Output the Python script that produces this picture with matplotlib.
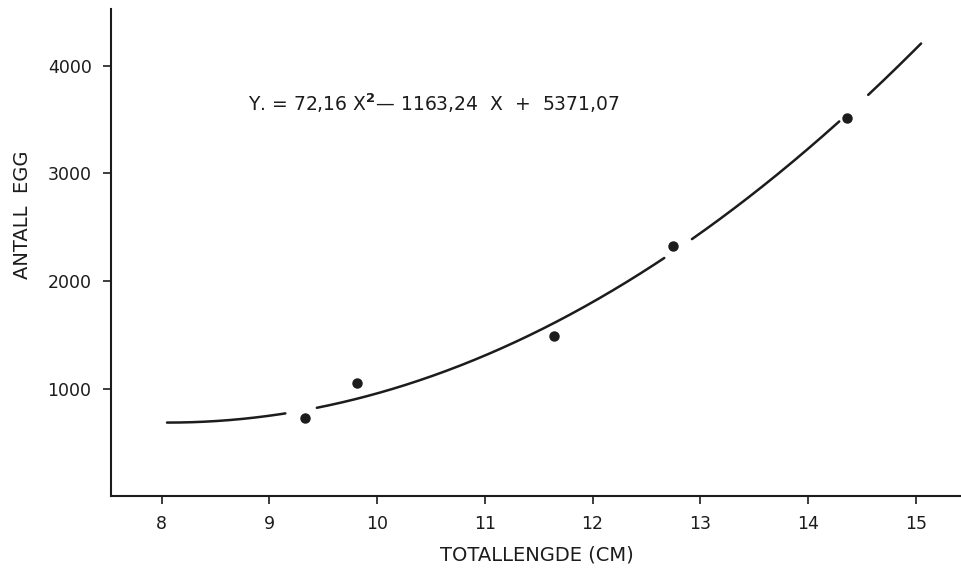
import numpy as np
import matplotlib
matplotlib.use("Agg")
import matplotlib.pyplot as plt

# Observed data points (total length cm, egg count)
length_cm = [9.33, 9.81, 11.64, 12.75, 14.36]
egg_count = [725, 1055, 1485, 2325, 3515]

# Fitted quadratic coefficients printed on chart
coef_a, coef_b, coef_c = 72.16, -1163.24, 5371.07
curve_range = (8.05, 15.05)
# breaks in the hand-drawn curve around plotted points
curve_gaps = [(9.16, 9.44), (12.67, 12.92), (14.30, 14.55)]

x_ticks = [8, 9, 10, 11, 12, 13, 14, 15]
y_ticks = [1000, 2000, 3000, 4000]

ink = "#1c1c1c"
plt.rcParams['font.family'] = ['DejaVu Sans']

fig = plt.figure(figsize=(9.62, 5.71), dpi=100)
ax = fig.add_axes([0.1154, 0.1313, 0.8846, 0.853])

xc = np.linspace(curve_range[0], curve_range[1], 600)
yc = coef_a * xc**2 + coef_b * xc + coef_c
for g0, g1 in curve_gaps:
    yc = np.where((xc > g0) & (xc < g1), np.nan, yc)
ax.plot(xc, yc, color=ink, lw=1.8, solid_capstyle='round')
ax.plot(length_cm, egg_count, 'o', color=ink, ms=6.5)

ax.set_xlim(7.53, 15.43)
ax.set_ylim(0, 4530)
ax.set_xticks(x_ticks)
ax.set_xticklabels([str(v) for v in x_ticks])
ax.set_yticks(y_ticks)
ax.set_yticklabels([str(v) for v in y_ticks])

for s in ['top', 'right']:
    ax.spines[s].set_visible(False)
for s in ['left', 'bottom']:
    ax.spines[s].set_color(ink)
    ax.spines[s].set_linewidth(1.5)
ax.tick_params(axis='both', direction='out', length=6, width=1.2, color=ink,
               labelsize=12.5, labelcolor=ink, pad=8)

ax.set_xlabel("TOTALLENGDE (CM)", fontsize=14, color=ink, labelpad=9)
ax.set_ylabel("ANTALL  EGG", fontsize=14, color=ink)
ax.yaxis.set_label_coords(-0.093, 0.578)

ax.text(8.8, 3650, r"Y. = 72,16 X$^{\mathbf{2}}$— 1163,24  X  +  5371,07",
        fontsize=13.5, color=ink, va='center', ha='left')

fig.savefig("out.png", dpi=100)
